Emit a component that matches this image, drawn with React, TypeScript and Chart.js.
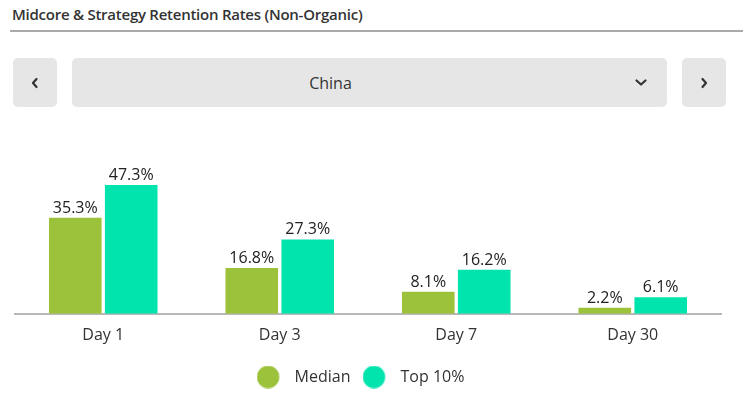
import React, { useEffect, useRef } from "react";
import { Chart, registerables } from "chart.js";

Chart.register(...registerables);

const categories = ["Day 1", "Day 3", "Day 7", "Day 30"];
const medianValues = [35.3, 16.8, 8.1, 2.2];
const top10Values = [47.3, 27.3, 16.2, 6.1];
const seriesNames = ["Median", "Top 10%"];
const seriesColors = ["#9CC13A", "#02E4AE"];
const titleText = "Midcore & Strategy Retention Rates (Non-Organic)";
const regionText = "China";

const FONT = "'Open Sans', 'Noto Sans', sans-serif";

function makeDot(color: string): HTMLCanvasElement {
  const c = document.createElement("canvas");
  c.width = 30;
  c.height = 23;
  const ctx = c.getContext("2d")!;
  ctx.fillStyle = color;
  ctx.beginPath();
  ctx.arc(11.5, 11.5, 11.2, 0, Math.PI * 2);
  ctx.fill();
  return c;
}

const valueLabels = {
  id: "valueLabels",
  afterDatasetsDraw(chart: any) {
    const ctx = chart.ctx;
    ctx.save();
    ctx.font = `16px ${FONT}`;
    ctx.fillStyle = "#222";
    ctx.textAlign = "center";
    ctx.textBaseline = "alphabetic";
    chart.data.datasets.forEach((ds: any, di: number) => {
      const meta = chart.getDatasetMeta(di);
      meta.data.forEach((bar: any, i: number) => {
        ctx.fillText(ds.data[i].toFixed(1) + "%", bar.x, bar.y - 5);
      });
    });
    ctx.restore();
  },
};

function Chevron({ d }: { d: string }) {
  return (
    <svg width="14" height="14" viewBox="0 0 14 14" style={{ display: "block" }}>
      <path d={d} fill="none" stroke="#333" strokeWidth="2.2" strokeLinecap="round" strokeLinejoin="round" />
    </svg>
  );
}

export default function App() {
  const ref = useRef<HTMLCanvasElement>(null);

  useEffect(() => {
    const dots = seriesColors.map(makeDot);
    const chart = new Chart(ref.current!, {
      type: "bar",
      data: {
        labels: categories,
        datasets: [
          {
            label: seriesNames[0],
            data: medianValues,
            backgroundColor: seriesColors[0],
            pointStyle: dots[0] as any,
            categoryPercentage: 0.634,
            barPercentage: 0.94,
          },
          {
            label: seriesNames[1],
            data: top10Values,
            backgroundColor: seriesColors[1],
            pointStyle: dots[1] as any,
            categoryPercentage: 0.634,
            barPercentage: 0.94,
          },
        ],
      },
      options: {
        animation: false,
        responsive: false,
        maintainAspectRatio: false,
        layout: { padding: { left: 0, right: 29, top: 44, bottom: 0 } },
        plugins: {
          tooltip: { enabled: false },
          legend: {
            position: "bottom",
            labels: {
              usePointStyle: true,
              pointStyleWidth: 30,
              padding: 12,
              color: "#333",
              font: { family: FONT, size: 16 },
            },
          },
        },
        scales: {
          x: {
            grid: { display: false },
            border: { display: true, color: "#B8B8B8", width: 2 },
            ticks: { color: "#333", font: { family: FONT, size: 16 }, padding: 4 },
            afterFit(scale: any) {
              scale.height += 8;
            },
          },
          y: {
            min: 0,
            max: 55,
            grid: { display: false, drawTicks: false },
            border: { display: false },
            ticks: { display: false },
            afterFit(scale: any) {
              scale.width = 15;
            },
          },
        },
      },
      plugins: [valueLabels],
    });
    return () => chart.destroy();
  }, []);

  const btn: React.CSSProperties = {
    position: "absolute",
    top: 58,
    height: 49,
    background: "#E6E6E6",
    borderRadius: 5,
    display: "flex",
    alignItems: "center",
    justifyContent: "center",
  };

  return (
    <div
      style={{
        position: "absolute",
        left: 0,
        top: 0,
        width: 750,
        height: 395,
        background: "#fff",
        fontFamily: FONT,
        color: "#333",
        overflow: "hidden",
      }}
    >
      <div
        style={{
          position: "absolute",
          left: 12,
          top: 4,
          fontSize: 15,
          fontWeight: 600,
          lineHeight: "normal",
          whiteSpace: "nowrap",
          letterSpacing: -0.25,
        }}
      >
        {titleText}
      </div>
      <div style={{ position: "absolute", left: 10, top: 30, width: 733, height: 2, background: "#AAAAAA" }} />
      <div style={{ ...btn, left: 13, width: 44 }}>
        <Chevron d="M8.5 3 L5 7 L8.5 11" />
      </div>
      <div style={{ ...btn, left: 72, width: 595 }}>
        <div
          style={{
            position: "absolute",
            left: 0,
            width: 517,
            textAlign: "center",
            fontSize: 16,
            color: "#333",
          }}
        >
          {regionText}
        </div>
        <div style={{ position: "absolute", left: 562, top: 17 }}>
          <Chevron d="M2.5 5.5 L7 9.5 L11.5 5.5" />
        </div>
      </div>
      <div style={{ ...btn, left: 682, width: 44 }}>
        <Chevron d="M5.5 3 L9 7 L5.5 11" />
      </div>
      <canvas
        ref={ref}
        width={750}
        height={275}
        style={{ position: "absolute", left: 0, top: 120, width: 750, height: 275 }}
      />
    </div>
  );
}
